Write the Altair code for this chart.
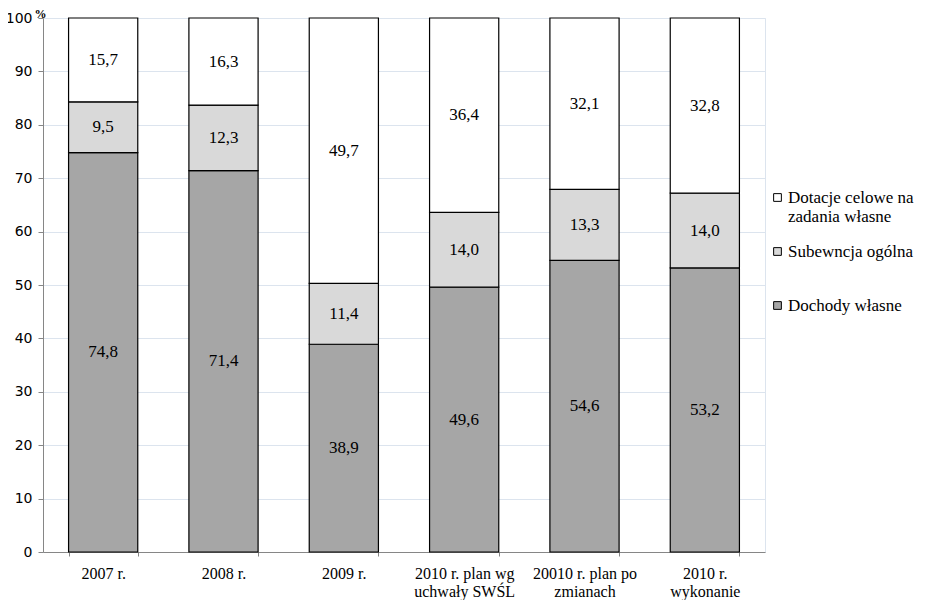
import altair as alt
import pandas as pd

categories = ["2007 r.", "2008 r.", "2009 r.", "2010 r. plan wg|uchwały SWŚL",
              "20010 r. plan po|zmianach", "2010 r.|wykonanie"]
series = ["Dotacje celowe na zadania własne", "Subewncja ogólna", "Dochody własne"]
dochody = [74.8, 71.4, 38.9, 49.6, 54.6, 53.2]
subwencja = [9.5, 12.3, 11.4, 14.0, 13.3, 14.0]
dotacje = [15.7, 16.3, 49.7, 36.4, 32.1, 32.8]
colors = ["#ffffff", "#d9d9d9", "#a6a6a6"]

rows = []
for i, c in enumerate(categories):
    for s, vals, order in [(series[2], dochody, 0), (series[1], subwencja, 1), (series[0], dotacje, 2)]:
        rows.append({"cat": c, "series": s, "value": vals[i], "order": order,
                     "label": f"{vals[i]:.1f}".replace(".", ",")})
df = pd.DataFrame(rows)

serif = "Liberation Serif"
sans = "DejaVu Sans"

x = alt.X("cat:N", sort=categories, title=None,
          scale=alt.Scale(paddingInner=0.425, paddingOuter=0.2125),
          axis=alt.Axis(labelAngle=0, labelFont=serif, labelFontSize=16, labelColor="black",
                        labelExpr="split(datum.label, '|')", labelPadding=9, labelLineHeight=18,
                        domainColor="#868686", tickColor="#868686", tickBand="extent", tickSize=4,
                        grid=False))

base = alt.Chart(df)

legend_expr = ("datum.label == 'Dotacje celowe na zadania własne' ? ['Dotacje celowe na', 'zadania własne'] "
               ": [datum.label, '']")

bars = base.mark_bar(stroke="black", strokeWidth=1.2).encode(
    x=x,
    y=alt.Y("value:Q", stack="zero", scale=alt.Scale(domain=[0, 100]),
            axis=alt.Axis(values=list(range(0, 101, 10)), title="%", titleAngle=0,
                          titleFont=serif, titleFontWeight="bold", titleFontSize=12,
                          titleX=-3, titleY=-1, titleAlign="center", titleBaseline="alphabetic",
                          labelFont=sans, labelFontSize=14, labelColor="black", labelPadding=6,
                          domainColor="#868686", tickColor="#868686", tickSize=5,
                          gridColor="#dce4ee", gridWidth=1)),
    color=alt.Color("series:N", sort=series,
                    scale=alt.Scale(domain=series, range=colors),
                    legend=alt.Legend(title=None, orient="none", legendX=726, legendY=171,
                                      symbolType="square", symbolSize=60, symbolStrokeColor="black",
                                      symbolStrokeWidth=1, labelFont=serif, labelFontSize=17,
                                      labelColor="black", rowPadding=17, labelOffset=2,
                                      labelLimit=200, labelExpr=legend_expr)),
    order=alt.Order("order:Q"),
)

texts = base.mark_text(font=serif, fontSize=17, color="black").transform_stack(
    stack="value", as_=["y0", "y1"], groupby=["cat"], sort=[alt.SortField("order")]
).transform_calculate(mid="(datum.y0 + datum.y1) / 2").encode(
    x=alt.X("cat:N", sort=categories),
    y=alt.Y("mid:Q"),
    text="label:N",
)

chart = alt.layer(bars, texts).properties(
    width=722, height=534,
    autosize=alt.AutoSizeParams(type="none"),
    padding={"left": 35, "top": 10, "right": 154, "bottom": 48},
).configure_view(stroke="#dce4ee")

chart.save("out.html", embed_options={"renderer": "svg", "actions": False})
